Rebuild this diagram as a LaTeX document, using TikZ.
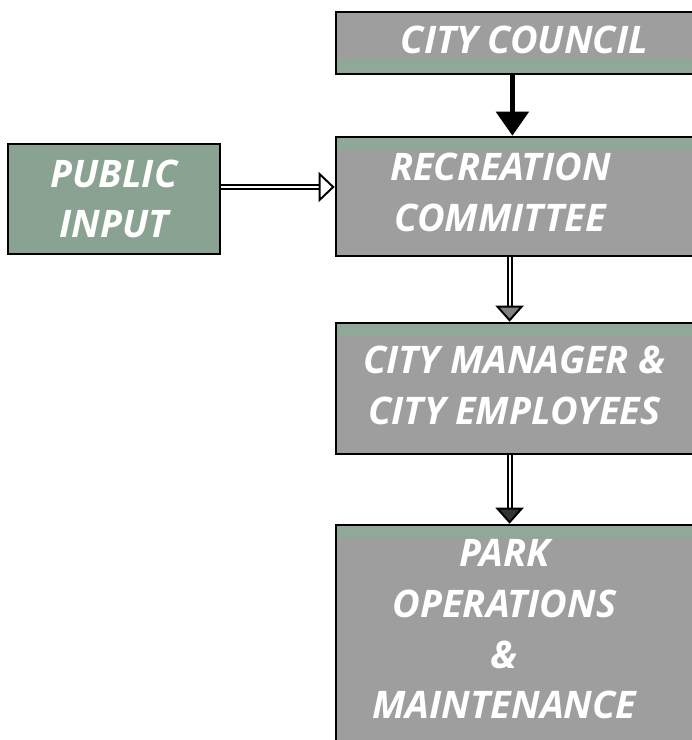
\documentclass[tikz,border=0pt]{standalone}
\usepackage{fontspec}
\setmainfont{Open Sans}
\usetikzlibrary{positioning, arrows.meta}
\definecolor{boxgray}{HTML}{9E9E9E}
\definecolor{stripgreen}{HTML}{8FA898}
\definecolor{inputgreen}{HTML}{8AA292}

\begin{document}
\begin{tikzpicture}[
        box/.style={draw=black, line width=1.8pt, fill=boxgray, minimum width=9.225cm},
        boxtext/.style={text=white, align=center, font=\fontsize{27}{36}\selectfont\bfseries\itshape},
        topstrip/.style={path picture={\fill[stripgreen] (path picture bounding box.north west) rectangle ([yshift=-0.33cm]path picture bounding box.north east);}},
        botstrip/.style={path picture={\fill[stripgreen] (path picture bounding box.south west) rectangle ([yshift=0.38cm]path picture bounding box.south east);}},
        solidarrow/.style={-{Triangle[length=0.6cm, width=0.8cm]}, line width=3.5pt},
        hollowarrow/.style={double, double distance=1.4pt, line width=1.4pt}]
      \useasboundingbox (0,0) rectangle (17.3,18.5);
      \node[box, botstrip, minimum height=1.55cm, label={[boxtext, xshift=0.1cm, yshift=0.08cm]center:CITY COUNCIL}] (cc) at (13.01,17.425) {};
      \node[box, topstrip, minimum height=2.975cm, label={[boxtext, xshift=-0.5cm, yshift=0.1cm]center:{RECREATION\\COMMITTEE}}] (rc) at (13.01,13.5875) {};
      \node[box, topstrip, minimum height=3.275cm, label={[boxtext, xshift=-0.15cm, yshift=0.075cm]center:{CITY MANAGER \&\\CITY EMPLOYEES}}] (cm) at (13.01,8.7875) {};
      \node[box, topstrip, minimum height=5.5cm, label={[boxtext, xshift=-0.4cm, yshift=0.14cm]center:{PARK\\OPERATIONS\\\&\\MAINTENANCE}}] (po) at (13.01,2.625) {};
      \node[box, boxtext, fill=inputgreen, minimum width=5.3cm, minimum height=2.75cm] (pub) at (2.85,13.525) {PUBLIC\\INPUT};

      \draw[solidarrow] ([xshift=-0.2cm]cc.south) -- ([xshift=-0.2cm]rc.north);
      \draw[hollowarrow, -{Triangle[length=0.4cm, width=0.75cm, fill=white]}] ([yshift=0.3cm]pub.east) -- ([yshift=0.3cm]pub.east -| rc.west);
      \draw[hollowarrow, -{Triangle[length=0.4cm, width=0.7cm, fill=gray]}] ([xshift=-0.27cm]rc.south) -- ([xshift=-0.27cm]cm.north);
      \draw[hollowarrow, -{Triangle[length=0.4cm, width=0.7cm, fill=black!80]}] ([xshift=-0.27cm]cm.south) -- ([xshift=-0.27cm]po.north);
    \end{tikzpicture}
\end{document}
